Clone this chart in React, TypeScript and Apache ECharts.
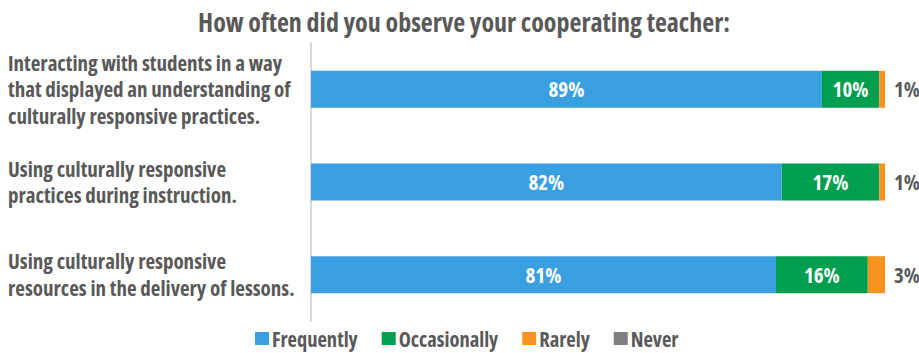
import React, { useEffect, useRef } from "react";
import * as echarts from "echarts";

const categories = [
  "Interacting with students in a way\nthat displayed an understanding of\nculturally responsive practices.",
  "Using culturally responsive\npractices during instruction.",
  "Using culturally responsive\nresources in the delivery of lessons.",
];
const frequently = [89, 82, 81];
const occasionally = [10, 17, 16];
const rarely = [1, 1, 3];
const never = [0, 0, 0];
const legendNames = ["Frequently", "Occasionally", "Rarely", "Never"];

const TEXT = "#595959";
const FONT = "'Open Sans'; font-stretch: condensed";

let patched = false;
function patchMeasure() {
  if (patched) return;
  patched = true;
  const ctx = document.createElement("canvas").getContext("2d") as any;
  (echarts as any).setPlatformAPI({
    measureText(text: string, font?: string) {
      let f = font || "12px sans-serif";
      let stretch = "normal";
      const m = /;\s*font-stretch:\s*([^;]+)/.exec(f);
      if (m) {
        stretch = m[1].trim();
        f = f.replace(/;\s*font-stretch:[^;]+/, "");
      }
      ctx.font = f;
      try { ctx.fontStretch = stretch; } catch (e) {}
      return ctx.measureText(text);
    },
  });
}

export default function App() {
  const ref = useRef<HTMLDivElement>(null);
  useEffect(() => {
    if (!ref.current) return;
    patchMeasure();
    const chart = echarts.init(ref.current, undefined, { renderer: "svg" });
    const inside = {
      show: true,
      position: "inside",
      formatter: "{c}%",
      color: "#ffffff",
      fontFamily: FONT,
      fontWeight: "bold",
      fontSize: 21,
    };
    chart.setOption({
      animation: false,
      textStyle: { fontFamily: FONT },
      title: {
        text: "How often did you observe your cooperating teacher:",
        left: 464,
        top: 9,
        padding: 0,
        textAlign: "center",
        textStyle: { fontFamily: FONT, fontWeight: "bold", fontSize: 26, color: TEXT },
      },
      legend: {
        top: 328,
        left: 255,
        padding: 0,
        itemWidth: 14,
        itemHeight: 13,
        itemGap: 24,
        icon: "rect",
        textStyle: { fontFamily: FONT, fontWeight: "bold", fontSize: 20.5, color: TEXT, padding: [0, 0, 0, -2] },
        data: legendNames,
      },
      grid: { left: 311, right: 34, top: 43, bottom: 32, containLabel: false },
      xAxis: { type: "value", min: 0, max: 100, show: false },
      yAxis: {
        type: "category",
        inverse: true,
        data: categories,
        axisLine: { show: true, lineStyle: { color: "#D9D9D9", width: 2 } },
        axisTick: { show: false },
        axisLabel: {
          align: "left",
          margin: 303,
          fontFamily: FONT,
          fontWeight: "bold",
          fontSize: 21,
          lineHeight: 26.5,
          padding: [4, 0, 0, 0],
          color: TEXT,
        },
      },
      series: [
        { name: "Frequently", type: "bar", stack: "s", data: frequently, barWidth: 37, itemStyle: { color: "#3A9FE0" }, label: inside },
        { name: "Occasionally", type: "bar", stack: "s", data: occasionally, itemStyle: { color: "#009E4F" }, label: inside },
        {
          name: "Rarely", type: "bar", stack: "s", data: rarely, itemStyle: { color: "#F7931E" },
          label: { show: true, position: "right", distance: 9, formatter: "{c}%", color: TEXT, fontFamily: FONT, fontWeight: "bold", fontSize: 21 },
        },
        { name: "Never", type: "bar", stack: "s", data: never, itemStyle: { color: "#7F7F7F" }, label: { show: false } },
      ],
    });
    return () => chart.dispose();
  }, []);
  return <div ref={ref} style={{ width: 919, height: 353, position: "absolute", left: 0, top: 0 }} />;
}
